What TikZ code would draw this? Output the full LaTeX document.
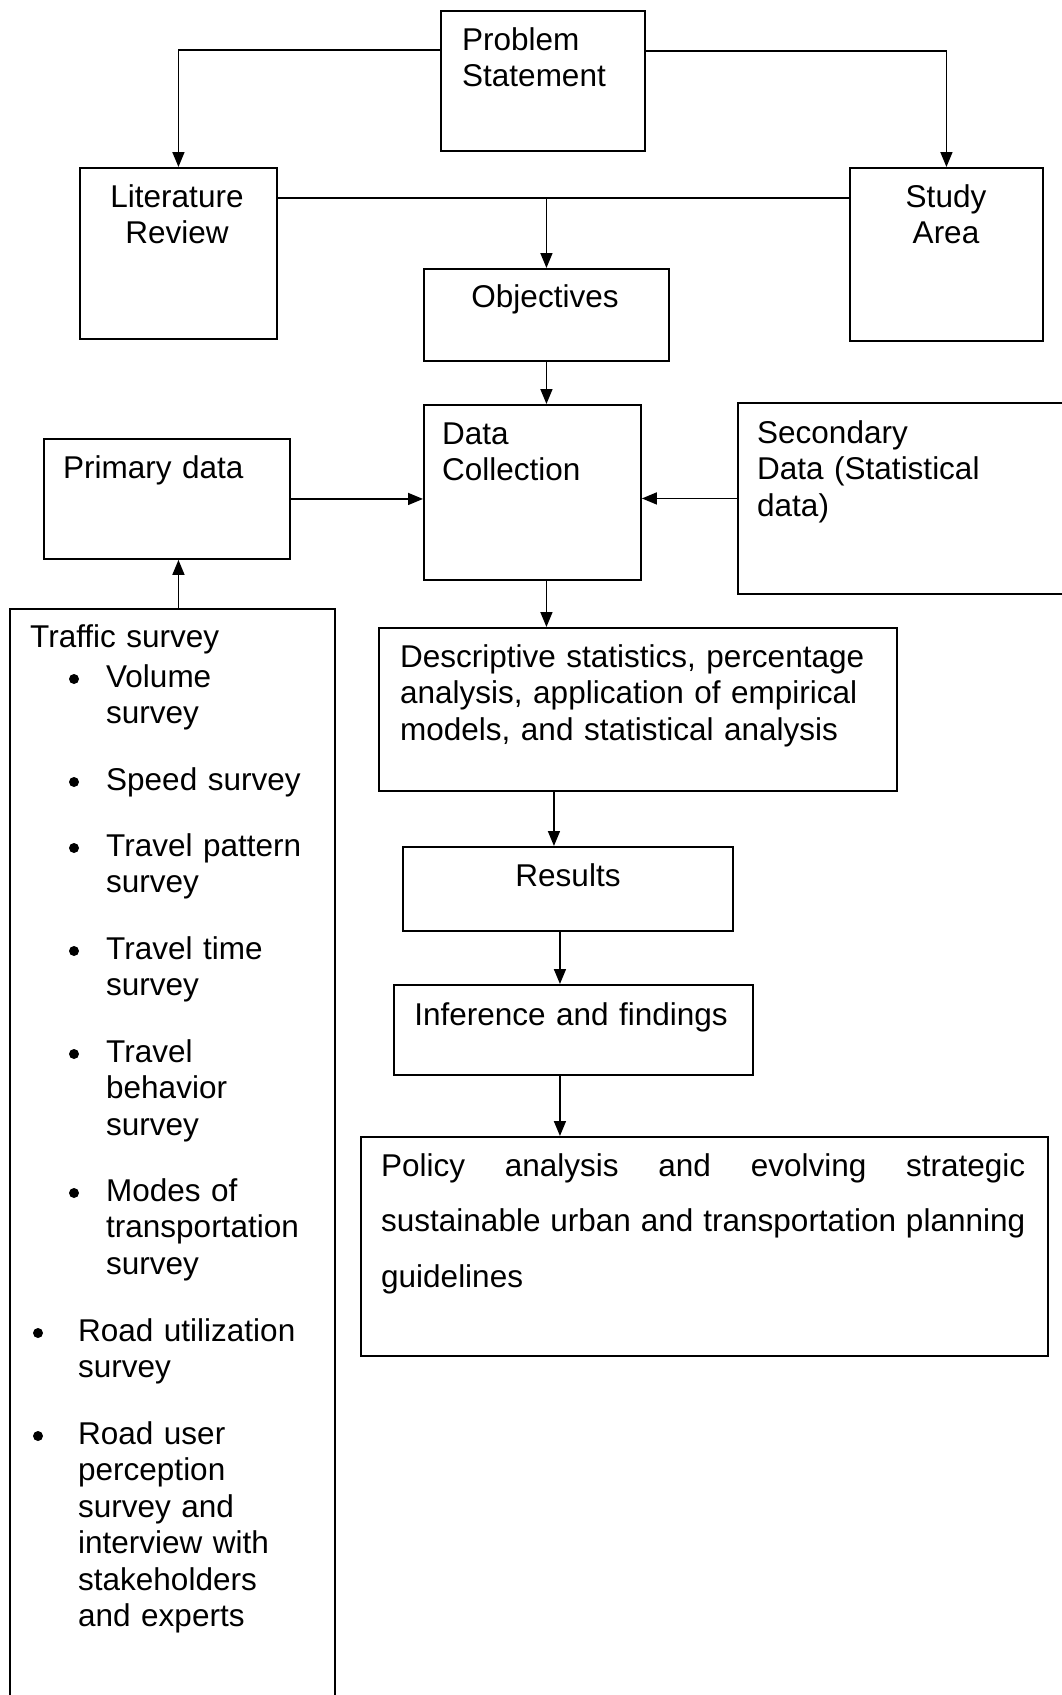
\documentclass[tikz,border=0pt]{standalone}
\usepackage{fontspec}
\setmainfont{Liberation Sans}
\usetikzlibrary{arrows.meta,positioning}
\hbadness=10000

\begin{document}
\begin{tikzpicture}[x=1pt, y=-1pt,
  box/.style = {draw, line width=1.9pt, inner sep=0pt, anchor=north west},
  txt/.style = {inner sep=0pt, text width=240pt, align=left, anchor=base west, font=\fontsize{31.5pt}{36.5pt}\selectfont},
  ctxt/.style = {inner sep=0pt, text width=300pt, align=center, anchor=base, font=\fontsize{31.5pt}{36.5pt}\selectfont},
  arr/.style = {-{Triangle[length=15pt,width=12pt]}, line width=1.6pt}]
\useasboundingbox (0,0) rectangle (1062,1695);
\clip (0,0) rectangle (1062,1695);
% boxes
\node[box, minimum width=204pt, minimum height=140pt] (prob) at (440,10) {};
\node[box, minimum width=197pt, minimum height=171pt] (lit) at (79,167) {};
\node[box, minimum width=193pt, minimum height=173pt] (study) at (849,167) {};
\node[box, minimum width=245pt, minimum height=92pt] (obj) at (423,268) {};
\node[box, minimum width=217pt, minimum height=175pt] (dc) at (423,404) {};
\node[box, minimum width=246pt, minimum height=120pt] (prim) at (43,438) {};
\node[box, minimum width=338pt, minimum height=191pt] (sec) at (737,402) {};
\node[box, minimum width=325pt, minimum height=1100pt] (traffic) at (9,608) {};
\node[box, minimum width=518pt, minimum height=163pt] (desc) at (378,627) {};
\node[box, minimum width=330pt, minimum height=84pt] (res) at (402,846) {};
\node[box, minimum width=359pt, minimum height=90pt] (inf) at (393,984) {};
\node[box, minimum width=687pt, minimum height=219pt] (pol) at (360,1136) {};
% texts
\node[txt] (probtext) at (462,50) {Problem\\Statement};
\node[ctxt] (littext) at (177,207) {Literature\\Review};
\node[ctxt] (studytext) at (946,207) {Study\\Area};
\node[ctxt] (objtext) at (545,307) {Objectives};
\node[txt] (dctext) at (442,444) {Data\\Collection};
\node[txt] (primtext) at (63,478) {Primary data};
\node[txt, text width=290pt] (sectext) at (757,443) {Secondary\\Data (Statistical\\data)};
\node[txt, text width=500pt] (desctext) at (400,667) {Descriptive statistics, percentage\\analysis, application of empirical\\models, and statistical analysis};
\node[ctxt] (restext) at (568,886) {Results};
\node[ctxt, text width=340pt] (inftext) at (571,1025) {Inference and findings};
\node[txt, align=justify, text width=644pt, font=\fontsize{31.5pt}{55.5pt}\selectfont] (poltext) at (381,1176)
  {Policy analysis and evolving strategic\linebreak sustainable urban and transportation planning\linebreak guidelines};
% traffic survey list
\node[txt] (trafhead) at (30,647) {Traffic survey};
\node[txt] (volume) at (106,687) {Volume\\survey};
\node[txt] (speed) at (106,790) {Speed survey};
\node[txt] (pattern) at (106,856) {Travel pattern\\survey};
\node[txt] (ttime) at (106,959) {Travel time\\survey};
\node[txt] (behav) at (106,1062) {Travel\\behavior\\survey};
\node[txt] (modes) at (106,1201) {Modes of\\transportation\\survey};
\node[txt] (roadutil) at (78,1341) {Road utilization\\survey};
\node[txt] (roaduser) at (78,1444) {Road user\\perception\\survey and\\interview with\\stakeholders\\and experts};
\foreach \bx/\by in {74/679, 74/782, 74/848, 74/951, 74/1054, 74/1193, 38/1333, 38/1436}
  \fill (\bx,\by) circle (5pt);
% connectors
\draw[arr] ([yshift=-40pt]prob.north west) -| (lit.north);
\draw[arr] ([yshift=-41pt]prob.north east) -| (study.north);
\coordinate (litjoin) at ([yshift=-31pt]lit.north east);
\draw[line width=1.6pt] (litjoin) -- (litjoin -| study.west);
\draw[arr] (litjoin -| obj.north) -- (obj.north);
\draw[arr] (obj.south) -- (obj.south |- dc.north);
\draw[arr] (prim.east) -- (prim.east -| dc.west);
\draw[arr] (sec.west) -- (sec.west -| dc.east);
\draw[arr] ([xshift=6pt]traffic.north) -- ([xshift=6pt]traffic.north |- prim.south);
\draw[arr] (obj.south |- dc.south) -- (obj.south |- desc.north);
\draw[arr] ([xshift=-14pt]res.north |- desc.south) -- ([xshift=-14pt]res.north);
\draw[arr] ([xshift=-8pt]res.south) -- ([xshift=-8pt]res.south |- inf.north);
\draw[arr] ([xshift=-13.5pt]inf.south) -- ([xshift=-13.5pt]inf.south |- pol.north);
\end{tikzpicture}
\end{document}
